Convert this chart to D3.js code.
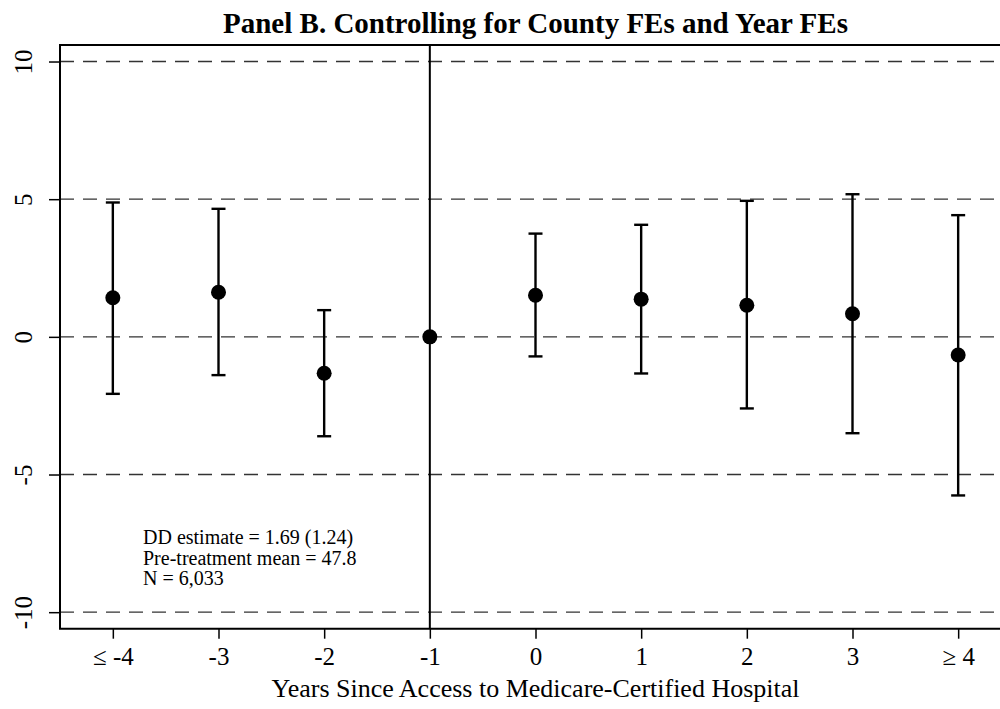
<!DOCTYPE html>
<html>
<head>
<meta charset="utf-8">
<script src="https://cdn.jsdelivr.net/npm/d3@7"></script>
<style>
  body { margin: 0; background: #fff; }
  text { font-family: "Liberation Serif", "Times New Roman", serif; fill: #000; }
</style>
</head>
<body>
<div id="chart"></div>
<script>
// Event-study coefficients
const periods = ["≤ -4", "-3", "-2", "-1", "0", "1", "2", "3", "≥ 4"];
const estimates = [1.42, 1.62, -1.32, 0, 1.51, 1.37, 1.15, 0.84, -0.66];
const ciLow = [-2.07, -1.39, -3.61, null, -0.71, -1.33, -2.6, -3.5, -5.76];
const ciHigh = [4.88, 4.65, 0.97, null, 3.75, 4.07, 4.94, 5.18, 4.42];
const yTicks = [-10, -5, 0, 5, 10];
const notes = ["DD estimate = 1.69 (1.24)", "Pre-treatment mean = 47.8", "N = 6,033"];

const width = 1000, height = 709;
const margin = {top: 45, left: 60, bottom: 80};
const plotRight = 1011; // plot area runs past the window edge

let svg = d3.select("#chart")
    .append("svg")
    .attr("width", width)
    .attr("height", height);

let x = d3.scalePoint()
    .domain(periods)
    .range([margin.left, plotRight])
    .padding(0.5);

let y = d3.scaleLinear()
    .domain([-10.6, 10.6])
    .range([height - margin.bottom - 0.3, margin.top]);

// dashed grid lines
svg.selectAll(".grid")
    .data(yTicks)
    .enter()
    .append("line")
    .attr("x1", margin.left)
    .attr("x2", 997)
    .attr("y1", d => y(d))
    .attr("y2", d => y(d))
    .style("stroke", "#333")
    .style("stroke-width", 1.3)
    .style("stroke-dasharray", "14,9");

// y axis (hyphen minus like the original, not d3's unicode minus)
let yAxis = d3.axisLeft(y)
    .tickValues(yTicks)
    .tickSize(11)
    .tickPadding(0)
    .tickFormat(d => String(d));

let gy = svg.append("g")
    .attr("transform", `translate(${margin.left},0)`)
    .call(yAxis);
gy.select(".domain").remove();
gy.selectAll(".tick line").style("stroke", "#000").style("stroke-width", 1.5);
gy.selectAll(".tick text")
    .attr("x", 0)
    .attr("y", 0)
    .attr("dy", 0)
    .attr("transform", "translate(-28,0) rotate(-90)")
    .style("text-anchor", "middle")
    .style("font-size", "25px")
    .style("font-family", "Liberation Serif");

// x axis
let xAxis = d3.axisBottom(x)
    .tickSize(10)
    .tickPadding(9);

let gx = svg.append("g")
    .attr("transform", `translate(0,${y.range()[0]})`)
    .call(xAxis);
gx.select(".domain").remove();
gx.selectAll(".tick line").style("stroke", "#000").style("stroke-width", 1.5);
gx.selectAll(".tick text")
    .style("font-size", "25px")
    .style("font-family", "Liberation Serif");

// frame: left, top, bottom
svg.append("path")
    .attr("d", `M${plotRight},${margin.top}H${margin.left}V${y.range()[0]}H${plotRight}`)
    .style("fill", "none")
    .style("stroke", "#000")
    .style("stroke-width", 2);

// reference line at -1
svg.append("line")
    .attr("x1", x("-1"))
    .attr("x2", x("-1"))
    .attr("y1", margin.top)
    .attr("y2", y.range()[0])
    .style("stroke", "#000")
    .style("stroke-width", 2);

let rows = periods.map((p, i) => ({p: p, est: estimates[i], lo: ciLow[i], hi: ciHigh[i]}))
    .filter(d => d.lo !== null);

// confidence intervals
let bars = svg.append("g")
    .style("stroke", "#000")
    .style("stroke-width", 2.4);

bars.selectAll(".ci")
    .data(rows)
    .enter()
    .append("line")
    .attr("x1", d => x(d.p))
    .attr("x2", d => x(d.p))
    .attr("y1", d => y(d.lo))
    .attr("y2", d => y(d.hi));

bars.selectAll(".capHi")
    .data(rows)
    .enter()
    .append("line")
    .attr("x1", d => x(d.p) - 7)
    .attr("x2", d => x(d.p) + 7)
    .attr("y1", d => y(d.hi))
    .attr("y2", d => y(d.hi));

bars.selectAll(".capLo")
    .data(rows)
    .enter()
    .append("line")
    .attr("x1", d => x(d.p) - 7)
    .attr("x2", d => x(d.p) + 7)
    .attr("y1", d => y(d.lo))
    .attr("y2", d => y(d.lo));

// point estimates
svg.selectAll(".dot")
    .data(periods)
    .enter()
    .append("circle")
    .attr("cx", d => x(d))
    .attr("cy", (d, i) => y(estimates[i]))
    .attr("r", 7.5)
    .style("fill", "#000");

// title
svg.append("text")
    .attr("x", (margin.left + plotRight) / 2)
    .attr("y", 33)
    .style("text-anchor", "middle")
    .style("font-size", "29px")
    .style("font-weight", "bold")
    .text("Panel B. Controlling for County FEs and Year FEs");

// x axis title
svg.append("text")
    .attr("x", (margin.left + plotRight) / 2)
    .attr("y", 697)
    .style("text-anchor", "middle")
    .style("font-size", "26px")
    .text("Years Since Access to Medicare-Certified Hospital");

// notes box
svg.selectAll(".note")
    .data(notes)
    .enter()
    .append("text")
    .attr("x", 143)
    .attr("y", (d, i) => 544 + i * 20.5)
    .style("font-size", "20px")
    .text(d => d);
</script>
</body>
</html>
